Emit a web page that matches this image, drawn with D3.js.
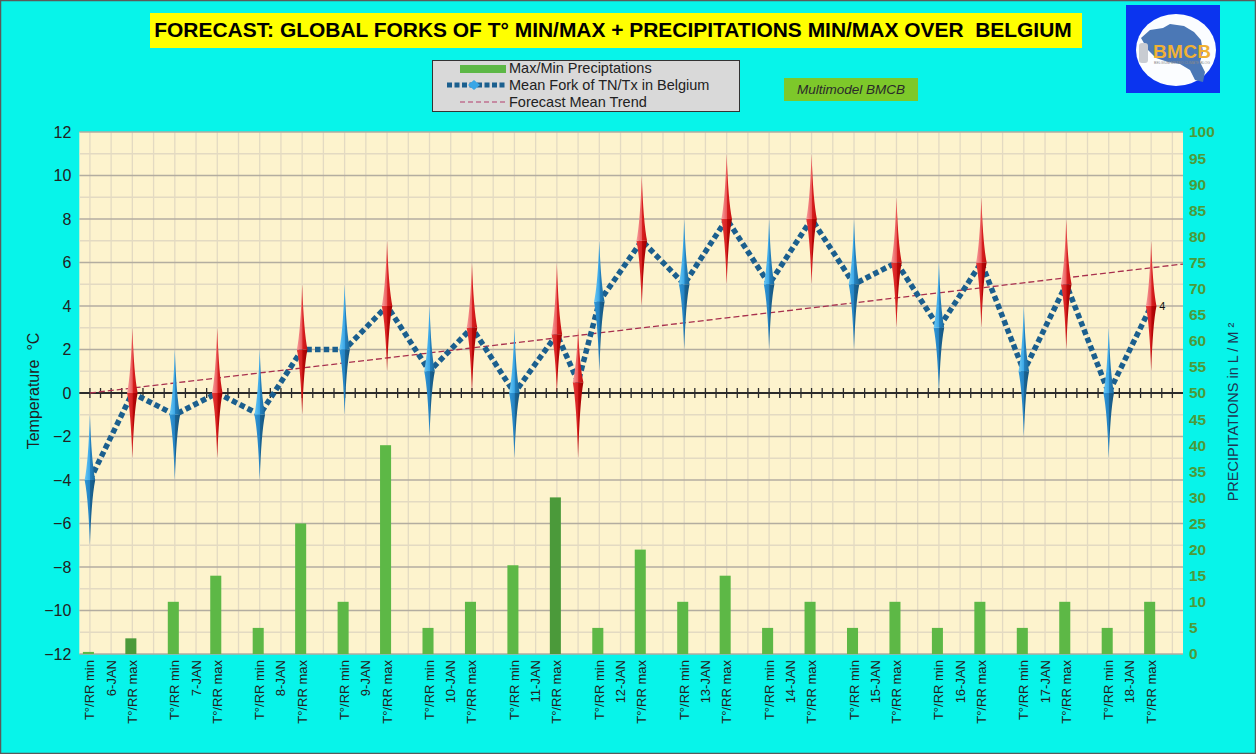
<!DOCTYPE html>
<html><head><meta charset="utf-8">
<script src="https://cdn.jsdelivr.net/npm/d3@7"></script>
<style>html,body{margin:0;padding:0;background:#07f4ea;} svg{display:block;}</style>
</head><body><svg id="c" width="1256" height="754"></svg>
<script>
// ---------------- DATA ----------------
const days = ["6-JAN","7-JAN","8-JAN","9-JAN","10-JAN","11-JAN","12-JAN","13-JAN","14-JAN","15-JAN","16-JAN","17-JAN","18-JAN"];
const slotNames = ["T°/RR min", "DATE", "T°/RR max", ""];
const n = null;
// blue forks (TN) high / low
const tnHigh = [-1,n,n,n, 2,n,n,n, 2,n,n,n, 5,n,n,n, 4,n,n,n, 3,n,n,n, 7,n,n,n, 8,n,n,n, 8,n,n,n, 8,n,n,n, 6,n,n,n, 4,n,n,n, 3,n,n,n];
const tnLow  = [-7,n,n,n,-4,n,n,n,-4,n,n,n,-1,n,n,n,-2,n,n,n,-3,n,n,n, 1,n,n,n, 2,n,n,n, 2,n,n,n, 2,n,n,n, 0,n,n,n,-2,n,n,n,-3,n,n,n];
// red forks (TX) high / low
const txHigh = [n,n,3,n, n,n,3,n, n,n,5,n, n,n,7,n, n,n,6,n, n,n,6,3, n,n,10,n, n,n,11,n, n,n,11,n, n,n,9,n, n,n,9,n, n,n,8,n, n,n,7,n];
const txLow  = [n,n,-3,n, n,n,-3,n, n,n,-1,n, n,n,1,n, n,n,0,n, n,n,0,-3, n,n,4,n, n,n,5,n, n,n,5,n, n,n,3,n, n,n,3,n, n,n,2,n, n,n,1,n];
// mean fork line
const meanFork = [-4,n,0,n, -1,n,0,n, -1,n,2,n, 2,n,4,n, 1,n,3,n, 0,n,2.7,0.5, 4.2,n,7,n, 5,n,8,n, 5,n,8,n, 5,n,6,n, 3,n,6,n, 1,n,5,n, 0,n,4,n];
// precipitation (L/m²)
const precip    = [0.4,n,n,n, 10,n,15,n, 5,n,25,n, 10,n,40,n, 5,n,10,n, 17,n,n,n, 5,n,20,n, 10,n,15,n, 5,n,10,n, 5,n,10,n, 5,n,10,n, 5,n,10,n, 5,n,10,n];
const precipAlt = [n,n,3,n, n,n,n,n, n,n,n,n, n,n,n,n, n,n,n,n, n,n,30,n, n,n,n,n, n,n,n,n, n,n,n,n, n,n,n,n, n,n,n,n, n,n,n,n, n,n,n,n];
// trend line (category position, value)
const trendPos = [0, 51.5];
const trendVal = [0, 5.93];
const tempTicks = d3.range(-12, 13, 2);
const precipTicks = d3.range(0, 101, 5);
const labelIndex = 50, labelValue = 4;

const categories = [];
days.forEach(d => slotNames.forEach(s => categories.push(s === "DATE" ? d : s)));

// ---------------- LAYOUT ----------------
const svg = d3.select("#c");
const W = 1256, H = 754;
const L = 79.3, R = 1183, T = 132, B = 654;
const font = "'Liberation Sans', Arial, sans-serif";

svg.append("rect").attr("width", W).attr("height", H).attr("fill", "#07f4ea");
svg.append("rect").attr("x", 0.5).attr("y", 0.5).attr("width", W - 1).attr("height", H - 1)
  .attr("fill", "none").attr("stroke", "#5a5a5a").attr("stroke-width", 1.5);

const x = d3.scaleBand().domain(d3.range(categories.length)).range([L, R]).padding(0);
const bw = x.bandwidth();
const cx = i => x(0) + (i + 0.5) * bw;
const yT = d3.scaleLinear().domain([-12, 12]).range([B, T]);
const yP = d3.scaleLinear().domain([0, 100]).range([B, T]);

// defs / gradients
const defs = svg.append("defs");
function grad(id, stops) {
  const g = defs.append("linearGradient").attr("id", id).attr("x1", "0").attr("x2", "1").attr("y1", "0").attr("y2", "0");
  stops.forEach(([o, c]) => g.append("stop").attr("offset", o).attr("stop-color", c));
}
grad("blueUp", [[0, "#6ccaf5"], [0.5, "#3aa6e6"], [0.55, "#2582bf"], [1, "#1b6a9c"]]);
grad("blueDn", [[0, "#3098d8"], [0.5, "#2482c2"], [0.55, "#1a6494"], [1, "#15557f"]]);
grad("redUp", [[0, "#f7a0a0"], [0.5, "#ea5a5a"], [0.55, "#d82020"], [1, "#c41010"]]);
grad("redDn", [[0, "#e43a3a"], [0.5, "#d82020"], [0.55, "#b80808"], [1, "#a00000"]]);

// plot background
svg.append("rect").attr("x", L).attr("y", T).attr("width", R - L).attr("height", B - T).attr("fill", "#fdf3cd");

// gridlines
const g = svg.append("g");
g.selectAll(".vg").data(d3.range(categories.length)).join("line")
  .attr("x1", d => cx(d)).attr("x2", d => cx(d)).attr("y1", T).attr("y2", B)
  .attr("stroke", "#e3dac2").attr("stroke-width", 1.3);
g.selectAll(".hm").data(d3.range(-11, 12, 2)).join("line")
  .attr("x1", L).attr("x2", R).attr("y1", d => yT(d)).attr("y2", d => yT(d))
  .attr("stroke", "#e3dac2").attr("stroke-width", 1.3);
g.selectAll(".hM").data(tempTicks.filter(d => d !== 0)).join("line")
  .attr("x1", L).attr("x2", R).attr("y1", d => yT(d)).attr("y2", d => yT(d))
  .attr("stroke", "#b3ada0").attr("stroke-width", 1.3);

// precipitation bars
const barW = bw * 0.52;
svg.append("g").selectAll("rect").data(precip.map((v, i) => [i, v]).filter(d => d[1] != null)).join("rect")
  .attr("x", d => cx(d[0]) - barW / 2 - 1.5).attr("width", barW)
  .attr("y", d => yP(d[1])).attr("height", d => yP(0) - yP(d[1]))
  .attr("fill", "#5db846");
svg.append("g").selectAll("rect").data(precipAlt.map((v, i) => [i, v]).filter(d => d[1] != null)).join("rect")
  .attr("x", d => cx(d[0]) - barW / 2 - 1.5).attr("width", barW)
  .attr("y", d => yP(d[1])).attr("height", d => yP(0) - yP(d[1]))
  .attr("fill", "#4b9a3a");

// zero axis with cross ticks
svg.append("line").attr("x1", L).attr("x2", R).attr("y1", yT(0)).attr("y2", yT(0))
  .attr("stroke", "#2b2b2b").attr("stroke-width", 2);
svg.append("g").selectAll("line").data(d3.range(1, categories.length * 2)).join("line")
  .attr("x1", d => L + d * bw / 2).attr("x2", d => L + d * bw / 2)
  .attr("y1", yT(0) - 5).attr("y2", yT(0) + 5).attr("stroke", "#2b2b2b").attr("stroke-width", 1.3);

// trend line
svg.append("path")
  .attr("d", d3.line().x((d, i) => cx(trendPos[i])).y(d => yT(d))(trendVal))
  .attr("stroke", "#a8304e").attr("stroke-width", 1.3).attr("fill", "none").attr("stroke-dasharray", "6,3");

// mean fork dotted line
const linePts = meanFork.map((v, i) => [i, v]).filter(d => d[1] != null);
svg.append("path")
  .attr("d", d3.line().x(d => cx(d[0])).y(d => yT(d[1]))(linePts))
  .attr("stroke", "#1b5f8e").attr("stroke-width", 5.5).attr("fill", "none").attr("stroke-dasharray", "5.5,3.2");

// forks
const hw = 5.3;
function forkPaths(i, hi, lo, mid) {
  const c = cx(i), yt = yT(hi), yb = yT(lo), ym = yT(mid);
  const up = `M${c},${yt} Q${c + hw * 0.3},${yt + (ym - yt) * 0.72} ${c + hw},${ym} L${c - hw},${ym} Q${c - hw * 0.3},${yt + (ym - yt) * 0.72} ${c},${yt} Z`;
  const dn = `M${c - hw},${ym} L${c + hw},${ym} Q${c + hw * 0.3},${yb - (yb - ym) * 0.72} ${c},${yb} Q${c - hw * 0.3},${yb - (yb - ym) * 0.72} ${c - hw},${ym} Z`;
  return [up, dn];
}
const forkG = svg.append("g");
function drawForks(hiArr, loArr, upFill, dnFill) {
  hiArr.forEach((hi, i) => {
    if (hi == null) return;
    const mid = meanFork[i] != null ? meanFork[i] : (hi + loArr[i]) / 2;
    const [up, dn] = forkPaths(i, hi, loArr[i], mid);
    forkG.append("path").attr("d", dn).attr("fill", `url(#${dnFill})`);
    forkG.append("path").attr("d", up).attr("fill", `url(#${upFill})`);
  });
}
drawForks(tnHigh, tnLow, "blueUp", "blueDn");
drawForks(txHigh, txLow, "redUp", "redDn");

// data label
svg.append("text").attr("x", cx(labelIndex) + 8).attr("y", yT(labelValue) + 4)
  .attr("font-family", font).attr("font-size", 11).attr("fill", "#111").text(labelValue);

// left axis
const la = svg.append("g").attr("transform", `translate(${L},0)`)
  .call(d3.axisLeft(yT).tickValues(tempTicks).tickSize(0).tickPadding(8));
la.select(".domain").remove();
la.selectAll("text").attr("font-family", font).attr("font-size", 16).attr("fill", "#222");

// right axis
const ra = svg.append("g").attr("transform", `translate(${R},0)`)
  .call(d3.axisRight(yP).tickValues(precipTicks).tickSize(0).tickPadding(6));
ra.select(".domain").remove();
ra.selectAll("text").attr("font-family", font).attr("font-size", 15.5).attr("font-weight", "bold").attr("fill", "#4c9a3a");

// x labels
svg.append("g").selectAll("text").data(categories.map((c, i) => [i, c])).join("text")
  .attr("transform", d => `translate(${cx(d[0]) + 4.5},${B + 6}) rotate(-90)`)
  .attr("text-anchor", "end").attr("font-family", font).attr("font-size", 13).attr("fill", "#222")
  .attr("xml:space", "preserve")
  .text(d => d[1]);

// axis titles
svg.append("text").attr("transform", `translate(39,391) rotate(-90)`).attr("text-anchor", "middle")
  .attr("font-family", font).attr("font-size", 16).attr("fill", "#222")
  .attr("xml:space", "preserve").text("Temperature  °C");
svg.append("text").attr("transform", `translate(1238,412) rotate(-90)`).attr("text-anchor", "middle")
  .attr("font-family", font).attr("font-size", 14.5).attr("fill", "#1f3552").text("PRECIPITATIONS in L / M ²");

// title
svg.append("rect").attr("x", 150).attr("y", 13).attr("width", 932).attr("height", 35).attr("fill", "#ffff00");
const title = svg.append("text").attr("x", 613).attr("y", 37).attr("text-anchor", "middle")
  .attr("font-family", font).attr("font-weight", "bold").attr("font-size", 18).attr("fill", "#000")
  .attr("xml:space", "preserve")
  .text("FORECAST: GLOBAL FORKS OF T° MIN/MAX + PRECIPITATIONS MIN/MAX OVER  BELGIUM");
const tl = title.node().getComputedTextLength();
title.attr("font-size", 18 * 918 / tl);

// legend
const lg = svg.append("g");
lg.append("rect").attr("x", 432.5).attr("y", 60.5).attr("width", 307).attr("height", 51)
  .attr("fill", "#d9d9d9").attr("stroke", "#333").attr("stroke-width", 1);
lg.append("rect").attr("x", 460).attr("y", 65).attr("width", 46).attr("height", 8).attr("fill", "#5db846");
lg.append("line").attr("x1", 447).attr("x2", 506).attr("y1", 85).attr("y2", 85)
  .attr("stroke", "#1b5f8e").attr("stroke-width", 5).attr("stroke-dasharray", "5,2.5");
lg.append("path").attr("d", "M468,85 L474,80 L480,85 L474,90 Z").attr("fill", "#3aa6e6");
lg.append("line").attr("x1", 460).attr("x2", 506).attr("y1", 102).attr("y2", 102)
  .attr("stroke", "#c07090").attr("stroke-width", 1.3).attr("stroke-dasharray", "5,3");
[["Max/Min Preciptations", 68], ["Mean Fork of TN/Tx in Belgium", 85], ["Forecast Mean Trend", 102]].forEach(([t, yy]) => {
  lg.append("text").attr("x", 509).attr("y", yy + 5).attr("font-family", font).attr("font-size", 14.5)
    .attr("fill", "#222").text(t);
});

// multimodel box
svg.append("rect").attr("x", 784).attr("y", 78).attr("width", 134).attr("height", 23).attr("fill", "#7dc82a");
svg.append("text").attr("x", 851).attr("y", 94).attr("text-anchor", "middle").attr("font-family", font)
  .attr("font-style", "italic").attr("font-size", 13.5).attr("fill", "#2a2a2a").text("Multimodel BMCB");

// logo
const lo = svg.append("g");
lo.append("rect").attr("x", 1126).attr("y", 5).attr("width", 94).attr("height", 88).attr("fill", "#0b34ef");
lo.append("ellipse").attr("cx", 1176).attr("cy", 50).attr("rx", 40).attr("ry", 36).attr("fill", "#fbfdff");
lo.append("path").attr("d", "M1141,38 L1150,30 L1163,28 L1170,24 L1184,26 L1194,32 L1201,40 L1203,52 L1200,62 L1205,72 L1203,82 L1195,80 L1190,70 L1180,64 L1168,62 L1156,58 L1148,50 Z")
  .attr("fill", "#4b78b6");
lo.append("rect").attr("x", 1139).attr("y", 43).attr("width", 9).attr("height", 20).attr("rx", 3).attr("fill", "#c8ccd2");
lo.append("text").attr("x", 1182).attr("y", 58).attr("text-anchor", "middle").attr("font-family", font)
  .attr("font-weight", "bold").attr("font-size", 19).attr("textLength", 58).attr("fill", "#f0b133").text("BMCB");
lo.append("text").attr("x", 1182).attr("y", 64).attr("text-anchor", "middle").attr("font-family", font)
  .attr("font-size", 3.5).attr("fill", "#888").text("BELGIUM METEO CLIMATE BLOG");
</script></body></html>
